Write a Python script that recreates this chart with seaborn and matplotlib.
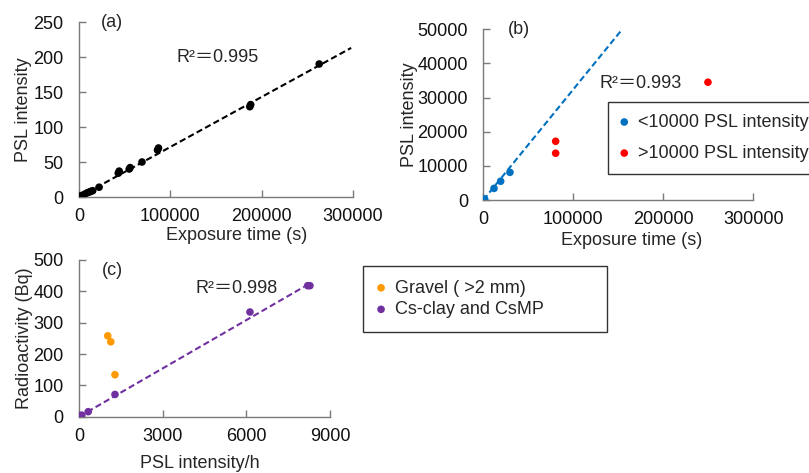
import numpy as np
import pandas as pd
import matplotlib
matplotlib.use("Agg")
import matplotlib.pyplot as plt
import seaborn as sns

# ---------------- data ----------------
# (a) exposure time vs PSL intensity
a_time = [0, 1500, 3000, 6000, 9000, 11000, 13000, 15000, 22000, 43000, 44000,
          55000, 56000, 69000, 86000, 87000, 187000, 188000, 263000]
a_psl = [0, 1, 2, 4, 6, 7, 8, 9, 14, 34, 37, 40, 42, 50, 67, 70, 129, 132, 190]
a_fit_xmax = 298000
a_r2 = "0.995"

# (b) exposure time vs PSL intensity
b_low_time = [0, 1500, 11900, 19300, 29600]
b_low_psl = [0, 300, 3400, 5500, 8100]
b_high_time = [80400, 80400, 249600]
b_high_psl = [17200, 13700, 34500]
b_fit_slope = 0.324
b_fit_xmax = 154400
b_r2 = "0.993"
b_labels = ["<10000 PSL intensity", ">10000 PSL intensity"]

# (c) PSL intensity/h vs radioactivity
c_gravel_psl = [1030, 1140, 1290]
c_gravel_bq = [258, 239, 134]
c_clay_psl = [0, 50, 100, 330, 1290, 6130, 8200, 8280]
c_clay_bq = [0, 2, 5, 16, 71, 334, 418, 418]
c_fit_xmax = 8070
c_r2 = "0.998"
c_labels = ["Gravel ( >2 mm)", "Cs-clay and CsMP"]

# ---------------- style ----------------
sns.set_style("white")
plt.rcParams["font.family"] = ["Liberation Sans", "DejaVu Sans"]
FS = 13
AXC = "#7a7a7a"
BLUE, RED, ORANGE, PURPLE = "#0070C0", "#FF0000", "#FF9900", "#7030A0"
DASH = (0, (3, 1.6))

W, H = 809, 473
fig = plt.figure(figsize=(W / 100, H / 100), dpi=100)


def px_axes(l, r, t, b):
    return fig.add_axes([l / W, 1 - b / H, (r - l) / W, (b - t) / H])


ax_a = px_axes(79, 353, 22, 197)
ax_b = px_axes(483.3, 753.3, 29.3, 200)
ax_c = px_axes(79, 330, 260, 416.7)


def style(ax, xlim, ylim, xticks, yticks):
    ax.set_xlim(*xlim)
    ax.set_ylim(*ylim)
    ax.set_xticks(xticks)
    ax.set_yticks(yticks)
    for s in ["top", "right"]:
        ax.spines[s].set_visible(False)
    for s in ["left", "bottom"]:
        ax.spines[s].set_color(AXC)
        ax.spines[s].set_linewidth(1.0)
    ax.tick_params(axis="both", which="major", bottom=True, left=True,
                   top=False, right=False, direction="in", length=5, width=1,
                   color=AXC, labelsize=FS, labelcolor="#111111")
    ax.tick_params(axis="x", pad=8)
    ax.tick_params(axis="y", pad=11)
    ax.ticklabel_format(style="plain", useOffset=False)


R2FAM = ["Liberation Sans", "Noto Sans CJK JP", "DejaVu Sans"]

# ---- (a)
df_a = pd.DataFrame({"t": a_time, "p": a_psl})
k, b0 = np.polyfit(df_a["t"], df_a["p"], 1)
fx = np.array([0, a_fit_xmax])
ax_a.plot(fx, k * fx, color="black", lw=1.5, ls=DASH, zorder=2)
sns.scatterplot(data=df_a, x="t", y="p", ax=ax_a, color="black", s=30,
                edgecolor="none", zorder=3, legend=False)
style(ax_a, (0, 300000), (0, 250), [0, 100000, 200000, 300000], range(0, 251, 50))
ax_a.set_xlabel("Exposure time (s)", fontsize=FS)
ax_a.set_ylabel("PSL intensity", fontsize=FS)
ax_a.xaxis.set_label_coords(0.577, -0.17)
ax_a.yaxis.set_label_coords(-0.17, 0.5)
ax_a.text(0.08, 1.0, "(a)", transform=ax_a.transAxes, fontsize=FS, ha="left", va="center")
ax_a.text(0.357, 0.80, "R²＝" + a_r2, transform=ax_a.transAxes, fontsize=FS,
          ha="left", va="center", family=R2FAM)

# ---- (b)
df_bl = pd.DataFrame({"t": b_low_time, "p": b_low_psl})
df_bh = pd.DataFrame({"t": b_high_time, "p": b_high_psl})
fx = np.array([0, b_fit_xmax])
ax_b.plot(fx, b_fit_slope * fx, color=BLUE, lw=1.5, ls=DASH, zorder=2)
sns.scatterplot(data=df_bl, x="t", y="p", ax=ax_b, color=BLUE, s=30,
                edgecolor="none", zorder=3, label=b_labels[0])
sns.scatterplot(data=df_bh, x="t", y="p", ax=ax_b, color=RED, s=30,
                edgecolor="none", zorder=3, label=b_labels[1])
style(ax_b, (0, 300000), (0, 50000), [0, 100000, 200000, 300000], range(0, 50001, 10000))
ax_b.set_xlabel("Exposure time (s)", fontsize=FS)
ax_b.set_ylabel("PSL intensity", fontsize=FS)
ax_b.xaxis.set_label_coords(0.55, -0.185)
ax_b.yaxis.set_label_coords(-0.24, 0.5)
ax_b.text(0.09, 1.0, "(b)", transform=ax_b.transAxes, fontsize=FS, ha="left", va="center")
ax_b.text(0.43, 0.685, "R²＝" + b_r2, transform=ax_b.transAxes, fontsize=FS,
          ha="left", va="center", family=R2FAM)
leg_b = ax_b.legend(loc="upper left", bbox_to_anchor=(608 / W, 1 - 102 / H),
                    bbox_transform=fig.transFigure, fontsize=FS, frameon=True,
                    fancybox=False, framealpha=1, edgecolor="#333333",
                    handlelength=0.5, handletextpad=0.5, borderpad=0.65,
                    labelspacing=0.78, borderaxespad=0, markerscale=1.0)
leg_b.get_frame().set_linewidth(1.0)

# ---- (c)
df_cg = pd.DataFrame({"x": c_gravel_psl, "y": c_gravel_bq})
df_cc = pd.DataFrame({"x": c_clay_psl, "y": c_clay_bq})
k, b0 = np.polyfit(df_cc["x"], df_cc["y"], 1)
fx = np.array([0, c_fit_xmax])
ax_c.plot(fx, k * fx, color=PURPLE, lw=1.5, ls=DASH, zorder=2)
sns.scatterplot(data=df_cg, x="x", y="y", ax=ax_c, color=ORANGE, s=30,
                edgecolor="none", zorder=3, label=c_labels[0])
sns.scatterplot(data=df_cc, x="x", y="y", ax=ax_c, color=PURPLE, s=30,
                edgecolor="none", zorder=3, label=c_labels[1])
style(ax_c, (0, 9000), (0, 500), [0, 3000, 6000, 9000], range(0, 501, 100))
ax_c.set_xlabel("PSL intensity/h", fontsize=FS)
ax_c.set_ylabel("Radioactivity (Bq)", fontsize=FS)
ax_c.xaxis.set_label_coords(0.482, -0.245)
ax_c.yaxis.set_label_coords(-0.185, 0.5)
ax_c.text(0.09, 0.93, "(c)", transform=ax_c.transAxes, fontsize=FS, ha="left", va="center")
ax_c.text(0.465, 0.82, "R²＝" + c_r2, transform=ax_c.transAxes, fontsize=FS,
          ha="left", va="center", family=R2FAM)
leg_c = ax_c.legend(loc="upper left",
                    bbox_to_anchor=(363 / W, 1 - 330 / H, (607 - 363) / W, (330 - 266) / H),
                    bbox_transform=fig.transFigure, mode="expand", fontsize=FS,
                    frameon=True, fancybox=False, framealpha=1, edgecolor="#333333",
                    handlelength=0.5, handletextpad=0.5, borderpad=0.75,
                    labelspacing=0.25, borderaxespad=0)
leg_c.get_frame().set_linewidth(1.0)

fig.savefig("out.png", dpi=100)
